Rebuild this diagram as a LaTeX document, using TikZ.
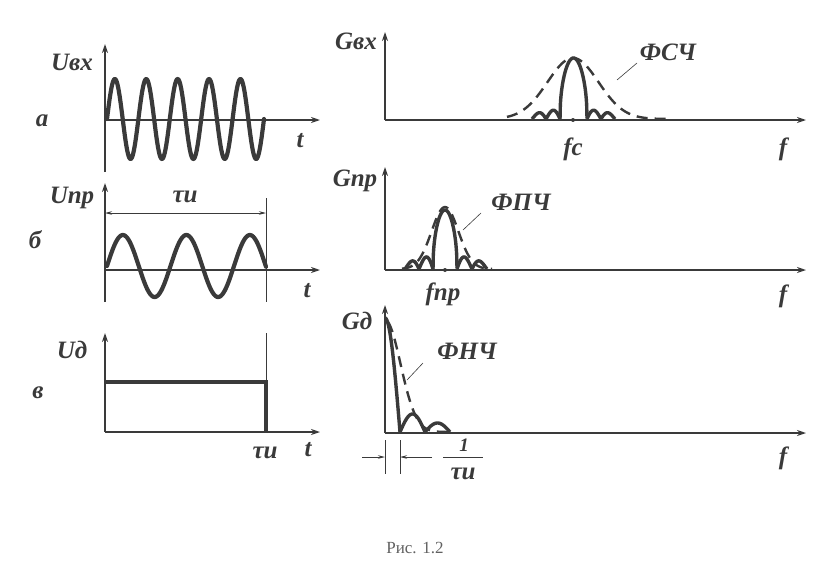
\documentclass[tikz,border=0pt]{standalone}
\usepackage{fontspec}
\setmainfont{Liberation Serif}
\usetikzlibrary{arrows.meta}
\definecolor{ink}{HTML}{3A3A3A}
\tikzset{
  axisline/.style={line width=1.8pt, draw=ink, -{Stealth[length=9pt,width=6pt]}},
  wave/.style={line width=4.2pt, draw=ink, line join=round, line cap=round},
  lobe/.style={line width=3.4pt, draw=ink, line join=round},
  env/.style={line width=2.4pt, draw=ink, dash pattern=on 11pt off 7pt},
  thinline/.style={line width=0.6pt, draw=ink},
  dimarrow/.style={line width=0.8pt, draw=ink, {Stealth[length=7pt,width=3.5pt]}-{Stealth[length=7pt,width=3.5pt]}},
  onearrow/.style={line width=0.8pt, draw=ink, -{Stealth[length=7pt,width=3.5pt]}},
  lab/.style={font=\fontsize{25}{27}\selectfont\bfseries\itshape, text=ink, inner sep=1pt},
  caption/.style={font=\fontsize{17}{19}\selectfont, text=ink!80}
}
\begin{document}
\begin{tikzpicture}[x=1pt,y=-1pt]
\useasboundingbox (0,0) rectangle (829,581);
% ---------- panel a ----------
\coordinate (aB) at (105,172);
\coordinate (aT) at (105,44);
\coordinate (aO) at (105,120);
\coordinate (aR) at (320,120);
\draw[axisline] (aB) -- (aT);
\draw[axisline] (aO) -- (aR);
\draw[wave] plot[domain=107:264,samples=240] (\x,{119-40*sin((\x-107)/31.4*360)});
\node[lab] (uvx) at (72,62) {Uвх};
\node[lab] (la) at (42,121) {а};
\node[lab] (ta) at (300,141) {t};
% ---------- panel b ----------
\coordinate (bB) at (105,302);
\coordinate (bT) at (105,183);
\coordinate (bO) at (105,270);
\coordinate (bR) at (320,270);
\coordinate (bE1) at (266,198);
\coordinate (bE2) at (266,302);
\coordinate (bD1) at (105,213);
\coordinate (bD2) at (266,213);
\draw[axisline] (bB) -- (bT);
\draw[axisline] (bO) -- (bR);
\draw[thinline] (bE1) -- (bE2);
\draw[dimarrow] (bD1) -- (bD2);
\draw[wave] plot[domain=107:266,samples=200] (\x,{266-31*sin((\x-107)/63.5*360)});
\node[lab] (upr) at (72,198) {Uпр};
\node[lab] (lb) at (35,240) {б};
\node[lab] (tb) at (307,291) {t};
\node[lab] (taub) at (185,197) {τи};
% ---------- panel v ----------
\coordinate (cO) at (105,432);
\coordinate (cT) at (105,333);
\coordinate (cR) at (320,432);
\coordinate (cP1) at (105,382);
\coordinate (cP2) at (266,382);
\coordinate (cP3) at (266,432);
\coordinate (cE) at (266,333);
\draw[axisline] (cO) -- (cT);
\draw[axisline] (cO) -- (cR);
\draw[thinline] (cE) -- (cP2);
\draw[wave, line cap=butt, line join=miter] (cP1) -- (cP2) -- (cP3);
\node[lab] (ud) at (72,350) {Uд};
\node[lab] (lv) at (38,393) {в};
\node[lab] (tauv) at (265,453) {τи};
\node[lab] (tv) at (308,450) {t};
% ---------- spectrum 1 ----------
\coordinate (dO) at (385,120);
\coordinate (dT) at (385,32);
\coordinate (dR) at (806,120);
\coordinate (dF) at (573,120);
\draw[axisline] (dO) -- (dT);
\draw[axisline] (dO) -- (dR);
\draw[env] plot[domain=507:668,samples=80] (\x,{119-61*exp(-((\x-573)/36)^2)});
\draw[lobe] plot[domain=560:587,samples=80] (\x,{119-61*pow(abs(cos((\x-573.5)/13.5*90)),0.45)});
\draw[lobe] plot[domain=532:560,samples=60] (\x,{119-(5+(\x-532)/28*5)*abs(sin((\x-532)/14*180))});
\draw[lobe] plot[domain=587:615,samples=60] (\x,{119-(10-(\x-587)/28*5)*abs(sin((\x-587)/14*180))});
\fill[ink] (dF) circle (2pt);
\node[lab] (gvx) at (356,41) {Gвх};
\node[lab] (fsc) at (668,52) {ФСЧ};
\node[lab] (fc) at (573,149) {fс};
\node[lab] (f1) at (783,149) {f};
\coordinate (p1) at (617,80);
\coordinate (p1a) at (637,63);
\draw[thinline] (p1a) -- (p1);
% ---------- spectrum 2 ----------
\coordinate (eO) at (385,270);
\coordinate (eT) at (385,167);
\coordinate (eR) at (806,270);
\coordinate (eF) at (445,270);
\draw[axisline] (eO) -- (eT);
\draw[axisline] (eO) -- (eR);
\draw[env] plot[domain=402:492,samples=60] (\x,{269-62*exp(-((\x-445)/19)^2)});
\draw[lobe] plot[domain=433:457,samples=80] (\x,{269-59*pow(abs(cos((\x-445)/12*90)),0.45)});
\draw[lobe] plot[domain=405:433,samples=60] (\x,{269-(6+(\x-405)/28*8)*abs(sin((\x-405)/14*180))});
\draw[lobe] plot[domain=457:487,samples=60] (\x,{269-(14-(\x-457)/30*8)*abs(sin((\x-457)/15*180))});
\fill[ink] (eF) circle (2pt);
\node[lab] (gpr) at (355,181) {Gпр};
\node[lab] (fpc) at (521,202) {ФПЧ};
\node[lab] (fpr) at (443,294) {fпр};
\node[lab] (f2) at (783,296) {f};
\coordinate (p2a) at (481,213);
\coordinate (p2) at (463,230);
\draw[thinline] (p2a) -- (p2);
% ---------- spectrum 3 ----------
\coordinate (gO) at (385,433);
\coordinate (gT) at (385,305);
\coordinate (gR) at (806,433);
\draw[axisline] (gO) -- (gT);
\draw[axisline] (gO) -- (gR);
\draw[env] plot[domain=388:452,samples=60] (\x,{432-112*exp(-((\x-385)/22)^2)});
\draw[lobe] plot[domain=385:400,samples=40] (\x,{432-114*cos((\x-385)/15*90)});
\draw[lobe] plot[domain=400:425,samples=50] (\x,{432-18*abs(sin((\x-400)/25*180))});
\draw[lobe] plot[domain=425:450,samples=50] (\x,{432-9*abs(sin((\x-425)/25*180))});
\node[lab] (gd) at (357,321) {Gд};
\node[lab] (fnc) at (467,351) {ФНЧ};
\node[lab] (f3) at (783,458) {f};
\coordinate (p3a) at (423,363);
\coordinate (p3) at (407,380);
\draw[thinline] (p3a) -- (p3);
% dimension under spectrum 3
\coordinate (k1a) at (385,440);
\coordinate (k1b) at (385,474);
\coordinate (k2a) at (400,440);
\coordinate (k2b) at (400,474);
\coordinate (m1) at (362,457);
\coordinate (m2) at (385,457);
\coordinate (m3) at (432,457);
\coordinate (m4) at (400,457);
\coordinate (q1) at (443,457);
\coordinate (q2) at (483,457);
\draw[thinline] (k1a) -- (k1b);
\draw[thinline] (k2a) -- (k2b);
\draw[onearrow] (m1) -- (m2);
\draw[onearrow] (m3) -- (m4);
\draw[thinline] (q1) -- (q2);
\node[lab, font=\fontsize{19}{20}\selectfont\bfseries\itshape] (one) at (464,445) {1};
\node[lab] (tauf) at (463,474) {τи};
% ---------- caption ----------
\node[caption] (cap) at (415,548) {Рис. 1.2};
\end{tikzpicture}
\end{document}
